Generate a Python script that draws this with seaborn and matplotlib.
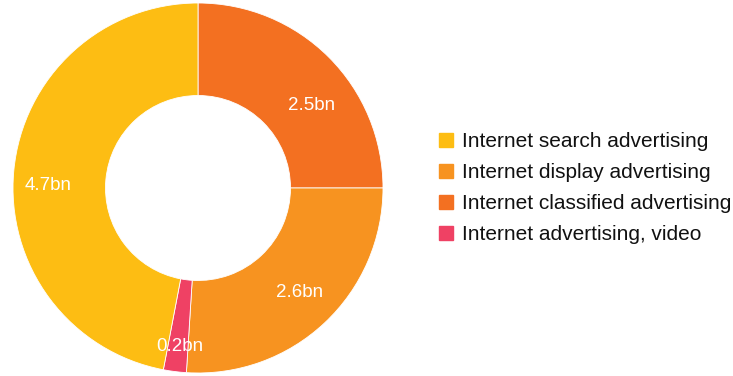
import matplotlib
matplotlib.use("Agg")
import matplotlib.pyplot as plt
from matplotlib.lines import Line2D
import numpy as np
import seaborn as sns

# Internet advertising spend by category (billions)
categories = ["Internet search advertising", "Internet display advertising",
              "Internet classified advertising", "Internet advertising, video"]
values = [4.7, 2.6, 2.5, 0.2]
value_labels = ["4.7bn", "2.6bn", "2.5bn", "0.2bn"]
colors = ["#FDBD13", "#F79320", "#F37021", "#EF4164"]

# clockwise drawing order starting at 12 o'clock
draw_order = [2, 1, 3, 0]
# label placement: (angle nudge in degrees, radius) per category
label_place = [(-4.4, 0.81), (-1.0, 0.79), (9.0, 0.76), (-0.7, 0.86)]

sns.set_theme(style="white")
plt.rcParams["font.family"] = ["Liberation Sans", "DejaVu Sans"]

W, H = 733, 376
fig = plt.figure(figsize=(W / 100, H / 100), dpi=100)
cx, cy, r = 198, 188, 185
ax = fig.add_axes([(cx - r) / W, (H - cy - r) / H, 2 * r / W, 2 * r / H])

wedges, _ = ax.pie([values[i] for i in draw_order],
                   colors=[colors[i] for i in draw_order],
                   startangle=90, counterclock=False, radius=1.0,
                   wedgeprops=dict(width=0.5, edgecolor="white", linewidth=0.6))
ax.set_xlim(-1, 1)
ax.set_ylim(-1, 1)
ax.set_aspect("equal")
ax.axis("off")

# value labels inside the ring
total = sum(values)
start = 90.0
for i in draw_order:
    span = 360.0 * values[i] / total
    nudge, lr = label_place[i]
    mid = np.deg2rad(start - span / 2 - nudge)
    start -= span
    ax.text(lr * np.cos(mid), lr * np.sin(mid), value_labels[i],
            ha="center", va="center", color="white", fontsize=13.5)

handles = [Line2D([], [], marker="s", linestyle="none", markersize=10,
                  markerfacecolor=c, markeredgecolor=c) for c in colors]
leg = fig.legend(handles, categories, loc="center left",
                 bbox_to_anchor=(427 / W, 1 - 188 / H), frameon=False,
                 fontsize=15, handletextpad=0.3, labelspacing=0.57,
                 handlelength=1.0, borderaxespad=0)
for t in leg.get_texts():
    t.set_color("#111111")

fig.savefig("out.png", dpi=100)
